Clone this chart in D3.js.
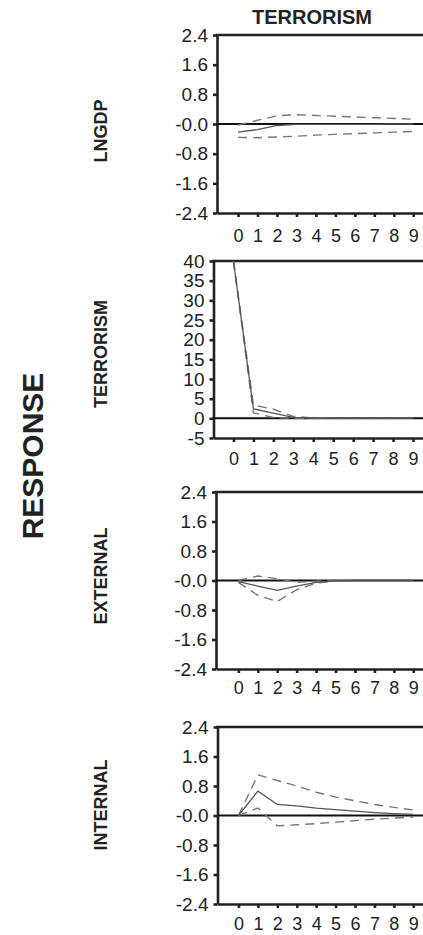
<!DOCTYPE html>
<html>
<head>
<meta charset="utf-8">
<script src="https://cdn.jsdelivr.net/npm/d3@7"></script>
<style>
  body { margin: 0; background: #fff; }
  svg { display: block; font-family: "Liberation Sans", Arial, sans-serif; }
</style>
</head>
<body>
<div id="chart"></div>
<script>
// impulse responses to a TERRORISM shock, periods 0..9
const periods = [0, 1, 2, 3, 4, 5, 6, 7, 8, 9];
const responseNames = ['LNGDP', 'TERRORISM', 'EXTERNAL', 'INTERNAL'];

const lngdpMid = [-0.22, -0.15, -0.04, -0.01, -0.01, -0.01, -0.01, -0.01, 0, 0];
const lngdpUp  = [-0.03, 0.1, 0.22, 0.25, 0.23, 0.21, 0.19, 0.17, 0.15, 0.13];
const lngdpLo  = [-0.36, -0.37, -0.35, -0.33, -0.3, -0.28, -0.26, -0.24, -0.22, -0.2];

const terrMid = [40, 2.4, 1.3, 0.25, 0.05, 0, 0, 0, 0, 0];
const terrUp  = [40, 3.4, 2.3, 0.5, 0.1, 0, 0, 0, 0, 0];
const terrLo  = [40, 1.4, 0.2, 0, 0, 0, 0, 0, 0, 0];

const extMid = [-0.03, -0.15, -0.27, -0.15, -0.05, -0.01, 0, 0, 0, 0];
const extUp  = [0, 0.12, 0.05, -0.05, -0.02, 0, 0, 0, 0, 0];
const extLo  = [-0.05, -0.4, -0.57, -0.25, -0.07, -0.01, 0, 0, 0, 0];

const intMid = [0, 0.66, 0.3, 0.26, 0.2, 0.16, 0.12, 0.08, 0.05, 0.03];
const intUp  = [0, 1.1, 0.95, 0.8, 0.63, 0.5, 0.4, 0.3, 0.22, 0.15];
const intLo  = [0, 0.2, -0.28, -0.25, -0.22, -0.18, -0.14, -0.1, -0.07, -0.04];

const smallTicks = [-2.4, -1.6, -0.8, 0, 0.8, 1.6, 2.4];
const terrTicks = [-5, 0, 5, 10, 15, 20, 25, 30, 35, 40];

const width = 423, height = 935;

// panel boxes (pixels), one per response
const panels = [
  { name: responseNames[0], mid: lngdpMid, up: lngdpUp, lo: lngdpLo, ticks: smallTicks, dom: [-2.4, 2.4],
    left: 217, top: 35, bottom: 213, xMin: -1.08, labY: 131, xLabDy: 24 },
  { name: responseNames[1], mid: terrMid, up: terrUp, lo: terrLo, ticks: terrTicks, dom: [-5, 40],
    left: 213.5, top: 261, bottom: 438, xMin: -1.0, labY: 354, xLabDy: 22 },
  { name: responseNames[2], mid: extMid, up: extUp, lo: extLo, ticks: smallTicks, dom: [-2.4, 2.4],
    left: 216, top: 492, bottom: 669, xMin: -1.15, labY: 576, xLabDy: 20 },
  { name: responseNames[3], mid: intMid, up: intUp, lo: intLo, ticks: smallTicks, dom: [-2.4, 2.4],
    left: 217.5, top: 727, bottom: 904, xMin: -1.08, labY: 805, xLabDy: 21 }
];

const svg = d3.select('#chart')
  .append('svg')
  .attr('width', width)
  .attr('height', height);

// column title
svg.append('text')
  .attr('x', 312)
  .attr('y', 24)
  .attr('text-anchor', 'middle')
  .style('font-size', '20px')
  .style('font-weight', 'bold')
  .style('fill', '#222')
  .text('TERRORISM');

// big row title
svg.append('text')
  .attr('transform', 'translate(43, 456) rotate(-90)')
  .attr('text-anchor', 'middle')
  .style('font-size', '30px')
  .style('font-weight', 'bold')
  .style('fill', '#222')
  .text('RESPONSE');

// plain hyphen for negatives, zero shown as -0.0 like the original
const yFmt = d => d === 0 ? '-0.0' : d.toFixed(1);
const intFmt = d => String(d);

panels.forEach(p => {
  const x = d3.scaleLinear().domain([p.xMin, 9.5]).range([p.left, width]);
  const y = d3.scaleLinear().domain(p.dom).range([p.bottom, p.top]);
  const g = svg.append('g');

  // row label
  g.append('text')
    .attr('transform', `translate(107, ${p.labY}) rotate(-90)`)
    .attr('text-anchor', 'middle')
    .style('font-size', '18px')
    .style('font-weight', 'bold')
    .style('fill', '#222')
    .text(p.name);

  // y axis
  const yAxis = g.append('g')
    .attr('transform', `translate(${p.left},0)`)
    .call(d3.axisLeft(y)
      .tickValues(p.ticks)
      .tickSize(4)
      .tickSizeOuter(0)
      .tickPadding(5)
      .tickFormat(p.dom[1] > 10 ? intFmt : yFmt));

  // x axis
  const xAxis = g.append('g')
    .attr('transform', `translate(0,${p.bottom})`)
    .call(d3.axisBottom(x)
      .tickValues(periods)
      .tickSize(4)
      .tickSizeOuter(0)
      .tickPadding(p.xLabDy - 12)
      .tickFormat(intFmt));

  [yAxis, xAxis].forEach(a => {
    a.select('.domain').attr('stroke', '#222').attr('stroke-width', 2.6);
    a.selectAll('.tick line').attr('stroke', '#222').attr('stroke-width', 2.6);
    a.selectAll('.tick text')
      .style('font-family', '"Liberation Sans", Arial, sans-serif')
      .style('fill', '#222');
  });
  yAxis.selectAll('.tick text').style('font-size', '19px');
  xAxis.selectAll('.tick text').style('font-size', '18px');

  // top border of the frame
  g.append('line')
    .attr('x1', p.left - 1.3)
    .attr('x2', width)
    .attr('y1', y(p.dom[1]))
    .attr('y2', y(p.dom[1]))
    .attr('stroke', '#222')
    .attr('stroke-width', 2.6);

  // zero line
  g.append('line')
    .attr('x1', p.left)
    .attr('x2', width)
    .attr('y1', y(0))
    .attr('y2', y(0))
    .attr('stroke', '#111')
    .attr('stroke-width', 2);

  const line = d3.line()
    .x((d, i) => x(periods[i]))
    .y(d => y(d));

  [p.up, p.lo].forEach(band => {
    g.append('path')
      .datum(band)
      .attr('d', line)
      .attr('fill', 'none')
      .attr('stroke', '#777')
      .attr('stroke-width', 1.4)
      .attr('stroke-dasharray', '9,6');
  });

  g.append('path')
    .datum(p.mid)
    .attr('d', line)
    .attr('fill', 'none')
    .attr('stroke', '#555')
    .attr('stroke-width', 1.3);
});
</script>
</body>
</html>
